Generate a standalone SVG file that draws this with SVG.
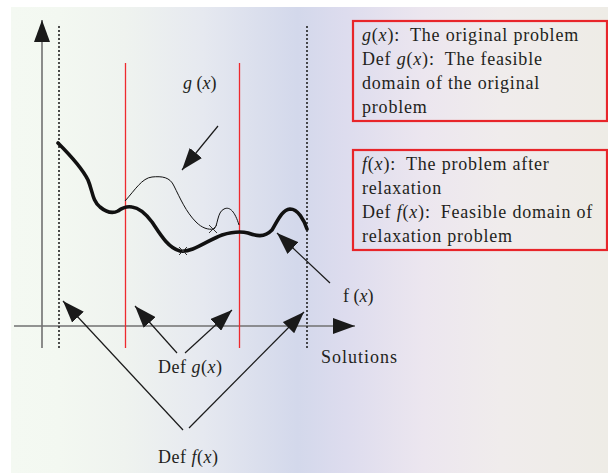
<svg xmlns="http://www.w3.org/2000/svg" width="608" height="475" viewBox="0 0 608 475">
<defs>
<linearGradient id="bg" x1="11" y1="0" x2="608" y2="0" gradientUnits="userSpaceOnUse">
<stop offset="0" stop-color="#f4f9f2"/>
<stop offset="0.08" stop-color="#f3f8f1"/>
<stop offset="0.19" stop-color="#eff3ef"/>
<stop offset="0.32" stop-color="#e6e9f0"/>
<stop offset="0.48" stop-color="#d3d8eb"/>
<stop offset="0.56" stop-color="#dddcee"/>
<stop offset="0.69" stop-color="#ece6ef"/>
<stop offset="0.82" stop-color="#f0ecec"/>
<stop offset="1" stop-color="#eeece6"/>
</linearGradient>
<marker id="ah" viewBox="0 0 22 16" refX="22" refY="8" markerWidth="22" markerHeight="16" markerUnits="userSpaceOnUse" orient="auto">
<path d="M0,0 L22,8 L0,16 z" fill="#1a1a1a"/>
</marker>
<marker id="axh" viewBox="0 0 22 16" refX="22" refY="8" markerWidth="22" markerHeight="16" markerUnits="userSpaceOnUse" orient="auto">
<path d="M0,0 L22,8 L0,16 z" fill="#1a1a1a"/>
</marker>
</defs>
<style>
text{font-family:"Liberation Serif","Times New Roman",serif;font-size:18px;fill:#231f20}
.i{font-style:italic}
.bt{letter-spacing:0.8px}
.axis{stroke:#707070;stroke-width:1.6;fill:none}
.dot{stroke:#222;stroke-width:1.6;stroke-dasharray:2,2;fill:none}
.red{stroke:#ee2a2e;stroke-width:1.3;fill:none}
.arr{stroke:#1a1a1a;stroke-width:1.2;fill:none}
.box{fill:none;stroke:#e8252a;stroke-width:2.2}
</style>
<rect x="11" y="7" width="597" height="466" fill="url(#bg)"/>

<g id="axes">
<line class="axis" x1="42" y1="348" x2="42" y2="20" marker-end="url(#axh)"/>
<line class="axis" x1="14" y1="326" x2="355" y2="326" marker-end="url(#axh)"/>
</g>

<g id="domain-lines">
<line class="dot" x1="59" y1="26" x2="59" y2="349"/>
<line class="dot" x1="307" y1="26" x2="307" y2="349"/>
<line class="red" x1="125.5" y1="63" x2="125.5" y2="348"/>
<line class="red" x1="239.5" y1="63" x2="239.5" y2="348"/>
</g>

<g id="curve-f">
<path d="M58,143 C68,153 82,168 88,180 C93,192 92,200 100,207 C106,212 112,214 118,211 C122,208 126,206 132,207 C140,208 146,214 152,222 C160,234 168,248 180,251 C192,253 208,240 222,235 C232,232 240,231 248,233 C256,236 264,238 272,230 C278,220 282,210 290,209 C298,209 304,220 307,229" fill="none" stroke="#111" stroke-width="3.6" stroke-linecap="round"/>
<path d="M179,247 L187,255 M179,255 L187,247" stroke="#333" stroke-width="1"/>
</g>

<g id="curve-g">
<path d="M125,201 C135,190 142,178 152,177 C162,176 170,177 174,186 C180,198 186,212 196,222 C202,228 208,230 214,229 C218,226 217,212 224,209 C230,206 235,212 239,225" fill="none" stroke="#111" stroke-width="1"/>
<path d="M209,225 L217,233 M209,233 L217,225" stroke="#333" stroke-width="1"/>
</g>

<g id="connectors">
<line class="arr" x1="218" y1="126" x2="182" y2="170" marker-end="url(#ah)"/>
<line class="arr" x1="330" y1="283" x2="277" y2="233" marker-end="url(#ah)"/>
<line class="arr" x1="177" y1="353" x2="135" y2="306" marker-end="url(#ah)"/>
<line class="arr" x1="185" y1="353" x2="232" y2="310" marker-end="url(#ah)"/>
<line class="arr" x1="183" y1="430" x2="63" y2="301" marker-end="url(#ah)"/>
<line class="arr" x1="189" y1="428" x2="304" y2="312" marker-end="url(#ah)"/>
</g>

<g id="label-g">
<text x="183" y="89"><tspan class="i">g</tspan> (<tspan class="i">x</tspan>)</text>
</g>
<g id="label-f">
<text x="343" y="302">f (<tspan class="i">x</tspan>)</text>
</g>
<g id="label-solutions">
<text x="321" y="363" letter-spacing="1">Solutions</text>
</g>
<g id="label-defg">
<text x="158" y="373" letter-spacing="0.5">Def <tspan class="i">g</tspan>(<tspan class="i">x</tspan>)</text>
</g>
<g id="label-deff">
<text x="158" y="463" letter-spacing="0.5">Def <tspan class="i">f</tspan>(<tspan class="i">x</tspan>)</text>
</g>

<g id="box-g">
<rect class="box" x="353" y="21" width="254" height="100"/>
<text class="bt" x="362" y="41"><tspan class="i">g</tspan>(<tspan class="i">x</tspan>):<tspan dx="10">The original problem</tspan></text>
<text class="bt" x="362" y="65">Def <tspan class="i">g</tspan>(<tspan class="i">x</tspan>):<tspan dx="10">The feasible</tspan></text>
<text class="bt" x="362" y="89">domain of the original</text>
<text class="bt" x="362" y="113">problem</text>
</g>

<g id="box-f">
<rect class="box" x="353" y="150" width="254" height="100"/>
<text class="bt" x="362" y="170"><tspan class="i">f</tspan>(<tspan class="i">x</tspan>):<tspan dx="10">The problem after</tspan></text>
<text class="bt" x="362" y="194">relaxation</text>
<text class="bt" x="362" y="218">Def <tspan class="i">f</tspan>(<tspan class="i">x</tspan>):<tspan dx="10">Feasible domain of</tspan></text>
<text class="bt" x="362" y="242">relaxation problem</text>
</g>
</svg>
